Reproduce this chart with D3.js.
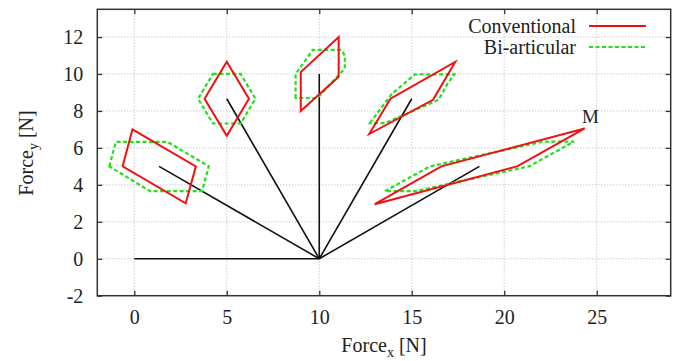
<!DOCTYPE html>
<html>
<head>
<meta charset="utf-8">
<script src="https://cdn.jsdelivr.net/npm/d3@7"></script>
<style>
  body { margin: 0; background: #fff; }
  svg text { font-family: "Liberation Serif", "DejaVu Serif", serif; fill: #222; }
</style>
</head>
<body>
<div id="chart"></div>
<script>
// force directions: black spokes from the origin point (10, 0)
const origin = [10, 0];
const spokeEnds = [[0, 0], [1.34, 5], [5, 8.66], [10, 10], [15, 8.66], [18.66, 5]];

// Conventional (red) polygons
const conventional = [
  [[-0.1, 7.0], [3.33, 5.0], [2.78, 3.0], [-0.63, 5.0]],
  [[5, 10.66], [6.2, 8.66], [5, 6.66], [3.8, 8.66]],
  [[9, 8], [9, 10.1], [11.05, 12], [11.05, 9.85]],
  [[12.7, 6.75], [13.85, 8.66], [17.35, 10.65], [16.15, 8.6]],
  [[13.0, 2.95], [16.6, 5.0], [24.35, 7.05], [20.7, 5.0]]
];

// Bi-articular (green) polygons
const biarticular = [
  [[-1.35, 5.0], [-1.0, 6.32], [1.8, 6.32], [4.03, 5.0], [3.66, 3.66], [0.85, 3.66]],
  [[4.25, 10.0], [5.75, 10.0], [6.55, 8.66], [5.75, 7.32], [4.25, 7.32], [3.45, 8.66]],
  [[8.72, 8.7], [8.72, 10.0], [9.65, 11.3], [11.2, 11.3], [11.38, 11.0], [11.38, 10.3], [9.9, 8.7]],
  [[12.74, 7.34], [13.9, 8.9], [15.17, 9.98], [17.3, 9.98], [16.95, 9.5], [16.45, 8.6], [13.55, 7.34]],
  [[13.55, 3.66], [15.98, 5.0], [22.1, 6.34], [23.77, 6.34], [21.34, 5.0], [15.2, 3.66]]
];

const xTicks = [0, 5, 10, 15, 20, 25];
const yTicks = [-2, 0, 2, 4, 6, 8, 10, 12];

const width = 677, height = 361;
const margin = { top: 9.3, right: 6.3, bottom: 65.3, left: 97.3 };

const svg = d3.select('#chart').append('svg')
    .attr('width', width)
    .attr('height', height);

const x = d3.scaleLinear().domain([-2, 29]).range([margin.left, width - margin.right]);
const y = d3.scaleLinear().domain([-2, 13.5]).range([height - margin.bottom, margin.top]);

const x0 = x.range()[0], x1 = x.range()[1];
const y0 = y.range()[0], y1 = y.range()[1];

// --- Grid ---
const grid = svg.append('g').attr('class', 'grid')
    .attr('stroke', '#b8b8b8')
    .attr('stroke-width', 1)
    .attr('stroke-dasharray', '1,2');

grid.selectAll('.gx')
    .data(xTicks)
    .enter().append('line')
    .attr('x1', d => x(d)).attr('x2', d => x(d))
    .attr('y1', y0).attr('y2', y1);

grid.selectAll('.gy')
    .data(yTicks.filter(d => d > -2))
    .enter().append('line')
    .attr('x1', x0).attr('x2', x1)
    .attr('y1', d => y(d)).attr('y2', d => y(d));

// --- Axes (ticks inside, mirrored) ---
const tickLen = 5;
const axisColor = '#333';
const plain = d => String(d); // hyphen minus like gnuplot

svg.append('g')
    .attr('transform', `translate(0,${y0})`)
    .call(d3.axisBottom(x).tickValues(xTicks).tickFormat(plain).tickSizeInner(-tickLen).tickSizeOuter(0).tickPadding(14))
    .call(g => g.select('.domain').remove())
    .call(g => g.selectAll('line').attr('stroke', axisColor).attr('stroke-width', 1.3))
    .call(g => g.selectAll('text').attr('font-size', 20).attr('font-family', 'Liberation Serif').attr('fill', '#222'));

svg.append('g')
    .attr('transform', `translate(0,${y1})`)
    .call(d3.axisTop(x).tickValues(xTicks).tickSizeInner(-tickLen).tickSizeOuter(0).tickFormat(''))
    .call(g => g.select('.domain').remove())
    .call(g => g.selectAll('line').attr('stroke', axisColor).attr('stroke-width', 1.3));

svg.append('g')
    .attr('transform', `translate(${x0},0)`)
    .call(d3.axisLeft(y).tickValues(yTicks).tickFormat(plain).tickSizeInner(-tickLen).tickSizeOuter(0).tickPadding(14))
    .call(g => g.select('.domain').remove())
    .call(g => g.selectAll('line').attr('stroke', axisColor).attr('stroke-width', 1.3))
    .call(g => g.selectAll('text').attr('font-size', 20).attr('font-family', 'Liberation Serif').attr('fill', '#222'));

svg.append('g')
    .attr('transform', `translate(${x1},0)`)
    .call(d3.axisRight(y).tickValues(yTicks).tickSizeInner(-tickLen).tickSizeOuter(0).tickFormat(''))
    .call(g => g.select('.domain').remove())
    .call(g => g.selectAll('line').attr('stroke', axisColor).attr('stroke-width', 1.3));

// border
svg.append('rect')
    .attr('x', x0).attr('y', y1)
    .attr('width', x1 - x0).attr('height', y0 - y1)
    .attr('fill', 'none')
    .attr('stroke', axisColor)
    .attr('stroke-width', 1.5);

// --- Spokes ---
svg.append('g').selectAll('line')
    .data(spokeEnds)
    .enter().append('line')
    .attr('x1', x(origin[0])).attr('y1', y(origin[1]))
    .attr('x2', d => x(d[0])).attr('y2', d => y(d[1]))
    .attr('stroke', '#111')
    .attr('stroke-width', 1.6);

// --- Polygons ---
const line = d3.line().x(d => x(d[0])).y(d => y(d[1])).curve(d3.curveLinearClosed);

svg.append('g').selectAll('path')
    .data(biarticular)
    .enter().append('path')
    .attr('d', line)
    .attr('fill', 'none')
    .attr('stroke', '#22e01a')
    .attr('stroke-width', 2.2)
    .attr('stroke-dasharray', '4,2.5');

svg.append('g').selectAll('path')
    .data(conventional)
    .enter().append('path')
    .attr('d', line)
    .attr('fill', 'none')
    .attr('stroke', '#f01010')
    .attr('stroke-width', 2)
    .attr('stroke-linejoin', 'miter');

// M marker label
svg.append('text')
    .attr('x', x(24.2)).attr('y', y(7.36))
    .attr('font-size', 19)
    .text('M');

// --- Legend ---
const legend = [
  { label: 'Conventional', color: '#f01010', dash: null, yPos: 26 },
  { label: 'Bi-articular', color: '#22e01a', dash: '4,2.5', yPos: 47 }
];
const lg = svg.append('g').selectAll('g')
    .data(legend)
    .enter().append('g');
lg.append('text')
    .attr('x', 576).attr('y', d => d.yPos + 7)
    .attr('text-anchor', 'end')
    .attr('font-size', 20)
    .text(d => d.label);
lg.append('line')
    .attr('x1', 589).attr('x2', 646)
    .attr('y1', d => d.yPos).attr('y2', d => d.yPos)
    .attr('stroke', d => d.color)
    .attr('stroke-width', 2.2)
    .attr('stroke-dasharray', d => d.dash);

// --- Axis titles ---
const xt = svg.append('text')
    .attr('x', 384).attr('y', 352)
    .attr('text-anchor', 'middle')
    .attr('font-size', 20);
xt.append('tspan').text('Force');
xt.append('tspan').attr('font-size', 14).attr('dy', 5).text('x');
xt.append('tspan').attr('dy', -5).text(' [N]');

const yt = svg.append('text')
    .attr('transform', `translate(33,153) rotate(-90)`)
    .attr('text-anchor', 'middle')
    .attr('font-size', 20);
yt.append('tspan').text('Force');
yt.append('tspan').attr('font-size', 14).attr('dy', 5).text('y');
yt.append('tspan').attr('dy', -5).text(' [N]');
</script>
</body>
</html>
